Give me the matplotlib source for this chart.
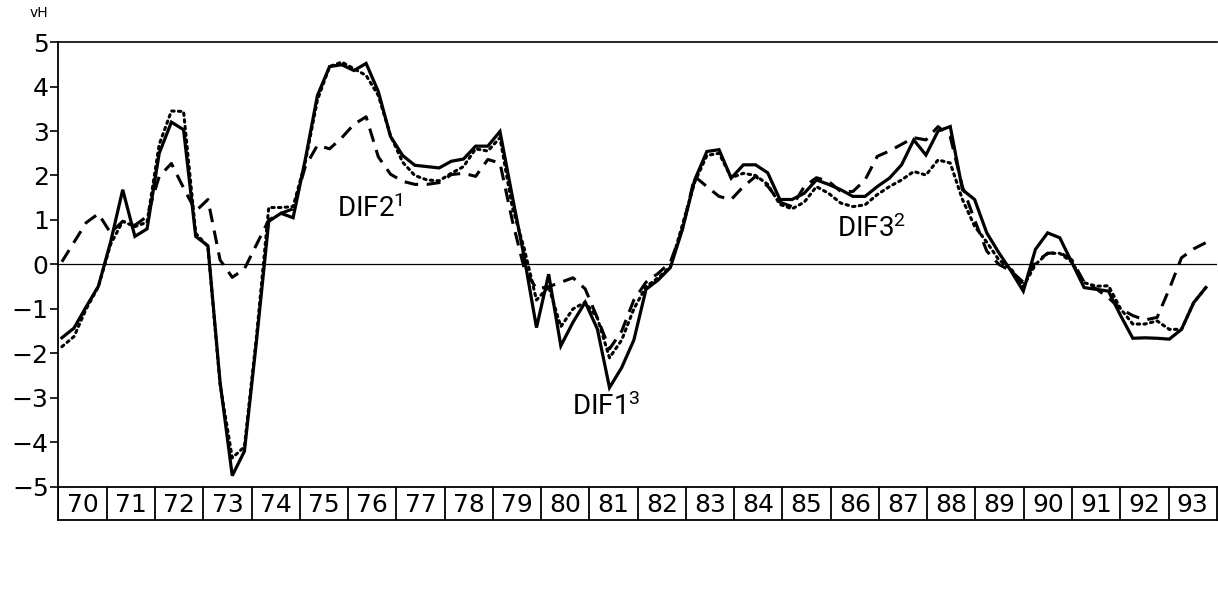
import matplotlib.pyplot as plt
import numpy as np
import pandas as pd

plt.rcParams['font.family'] = 'DejaVu Sans'
plt.rcParams['mathtext.default'] = 'regular'
plt.rcParams['mathtext.fontset'] = 'custom'
plt.rcParams['mathtext.rm'] = 'Roboto'

# quarterly observations, 1970Q1 .. 1993Q3
quarters = pd.period_range('1970Q1', '1993Q3', freq='Q')

solid = [
    -1.65, -1.43, -0.95, -0.49,   # 70
    0.50, 1.68, 0.63, 0.80,       # 71
    2.50, 3.20, 3.03, 0.63,       # 72
    0.42, -2.65, -4.75, -4.20,    # 73
    -1.70, 0.97, 1.15, 1.05,      # 74
    2.36, 3.80, 4.45, 4.49,       # 75
    4.36, 4.52, 3.89, 2.88,       # 76
    2.45, 2.23, 2.20, 2.17,       # 77
    2.32, 2.37, 2.66, 2.66,       # 78
    2.99, 1.55, 0.15, -1.42,      # 79
    -0.22, -1.83, -1.30, -0.85,   # 80
    -1.45, -2.77, -2.32, -1.70,   # 81
    -0.56, -0.35, -0.07, 0.80,    # 82
    1.90, 2.54, 2.58, 1.94,       # 83
    2.24, 2.24, 2.06, 1.46,       # 84
    1.46, 1.60, 1.90, 1.80,       # 85
    1.68, 1.53, 1.53, 1.75,       # 86
    1.94, 2.24, 2.80, 2.46,       # 87
    3.00, 3.10, 1.68, 1.46,       # 88
    0.71, 0.26, -0.15, -0.60,     # 89
    0.34, 0.71, 0.60, 0.04,       # 90
    -0.52, -0.56, -0.60, -1.15,   # 91
    -1.66, -1.65, -1.66, -1.68,   # 92
    -1.46, -0.86, -0.52,          # 93
]

dotted = [
    -1.85, -1.62, -1.00, -0.50,
    0.45, 0.97, 0.85, 0.95,
    2.70, 3.45, 3.44, 0.70,
    0.40, -2.70, -4.35, -4.10,
    -1.60, 1.28, 1.28, 1.30,
    2.30, 3.70, 4.45, 4.55,
    4.40, 4.25, 3.80, 2.90,
    2.30, 2.00, 1.90, 1.88,
    2.05, 2.20, 2.60, 2.55,
    2.85, 1.30, 0.35, -0.80,
    -0.50, -1.40, -1.00, -0.85,
    -1.20, -2.10, -1.70, -1.00,
    -0.50, -0.30, -0.05, 0.90,
    1.85, 2.45, 2.50, 1.95,
    2.05, 2.00, 1.80, 1.35,
    1.25, 1.40, 1.75, 1.60,
    1.38, 1.30, 1.34, 1.57,
    1.75, 1.90, 2.09, 2.01,
    2.35, 2.28, 1.46, 0.86,
    0.50, 0.10, -0.10, -0.50,
    0.00, 0.25, 0.25, 0.05,
    -0.41, -0.49, -0.48, -1.00,
    -1.34, -1.34, -1.27, -1.46,
    -1.46, -0.86, -0.52,
]

dashed = [
    0.06, 0.50, 0.94, 1.14,
    0.71, 0.97, 0.88, 1.08,
    1.98, 2.27, 1.72, 1.20,
    1.46, 0.10, -0.29, -0.10,
    0.45, 1.00, 1.15, 1.25,
    2.20, 2.68, 2.60, 2.85,
    3.15, 3.32, 2.42, 2.03,
    1.87, 1.80, 1.80, 1.84,
    2.02, 2.05, 1.98, 2.36,
    2.28, 1.00, -0.10, -0.55,
    -0.50, -0.40, -0.30, -0.55,
    -1.20, -1.90, -1.50, -0.80,
    -0.40, -0.20, 0.05, 0.80,
    1.98, 1.75, 1.53, 1.46,
    1.75, 1.98, 1.76, 1.40,
    1.30, 1.75, 1.95, 1.87,
    1.64, 1.64, 1.90, 2.43,
    2.55, 2.70, 2.85, 2.80,
    3.10, 2.87, 1.75, 1.00,
    0.30, 0.00, -0.15, -0.40,
    0.05, 0.25, 0.27, 0.10,
    -0.40, -0.55, -0.75, -1.00,
    -1.15, -1.25, -1.19, -0.55,
    0.15, 0.35, 0.49,
]

years = list(range(70, 94))
yticks = [5, 4, 3, 2, 1, 0, -1, -2, -3, -4, -5]

labels = [('DIF2', '1', 76.45, 1.25), ('DIF1', '3', 81.3, -3.2), ('DIF3', '2', 86.75, 0.8)]

# x position: middle of each quarter on a year axis starting at 70
x = np.array([q.year - 1900 + (q.quarter - 0.5) / 4 for q in quarters])

# the curves in the original are drawn a little wider than the year boxes
fig = plt.figure(figsize=(12.18, 6.01), dpi=100)
ax = fig.add_axes([0.048, 0.19, 0.951, 0.74])

ax.plot(x, dashed, color='black', lw=2.2, linestyle=(0, (4.5, 2.8)))
ax.plot(x, dotted, color='black', lw=2.2, linestyle=(0, (0.8, 1.4)), dash_capstyle='round')
ax.plot(x, solid, color='black', lw=2.3, solid_joinstyle='miter')
ax.axhline(0, color='black', lw=0.9)

ax.set_xlim(70.055, 93.85)
ax.set_ylim(-5, 5)
ax.set_yticks(yticks)
ax.set_yticklabels([str(v).replace('-', '\u2212') for v in yticks])
ax.set_xticks([])
ax.tick_params(axis='y', direction='out', length=6, width=1.2, labelsize=18, pad=1)
for s in ['right', 'bottom']:
    ax.spines[s].set_visible(False)
ax.spines['left'].set_linewidth(1.3)
ax.spines['top'].set_linewidth(1.2)

for name, sup, lx, ly in labels:
    ax.text(lx, ly, name + '$^{' + sup + '}$', fontsize=20, ha='center', va='center',
            family='Roboto')

fig.text(0.032, 0.978, 'vH', fontsize=10, ha='center', va='center')

# year boxes below the plot
bx = fig.add_axes([0.048, 0.135, 0.951, 0.055])
bx.set_xlim(70, 94)
bx.set_ylim(0, 1)
for yr in years:
    bx.axvline(yr, color='black', lw=1.3)
    bx.text(yr + 0.5, 0.45, str(yr), fontsize=18, ha='center', va='center')
bx.set_xticks([])
bx.set_yticks([])
for s in bx.spines.values():
    s.set_linewidth(1.3)

plt.savefig('out.png', dpi=100)
plt.close()
